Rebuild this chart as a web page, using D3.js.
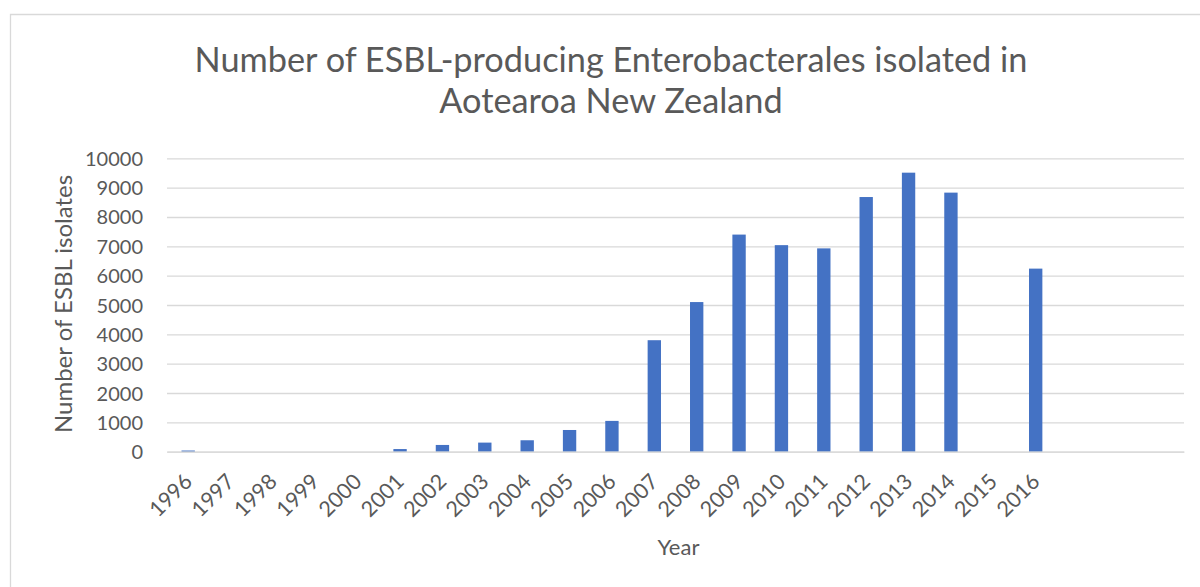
<!DOCTYPE html>
<html>
<head>
<meta charset="utf-8">
<script src="https://cdn.jsdelivr.net/npm/d3@7"></script>
<style>
  html, body { margin: 0; padding: 0; background: #fff; }
  svg { display: block; }
  text { font-family: Lato, "Open Sans", sans-serif; fill: #595959; }
</style>
</head>
<body>
<svg id="chart" width="1200" height="587"></svg>
<script>
// Years shown on the category axis (the axis reserves three further unlabelled slots)
const years = ["1996","1997","1998","1999","2000","2001","2002","2003","2004","2005",
               "2006","2007","2008","2009","2010","2011","2012","2013","2014","2015","2016"];
const slotCount = 24;
// Number of ESBL-producing Enterobacterales isolates per year
const isolates = [40, 0, 0, 0, 0, 90, 230, 310, 390, 740,
                  1050, 3800, 5100, 7400, 7040, 6930, 8680, 9510, 8830, 0, 6240];
const yTicks = [0, 1000, 2000, 3000, 4000, 5000, 6000, 7000, 8000, 9000, 10000];
const titleLines = ["Number of ESBL-producing Enterobacterales isolated in", "Aotearoa New Zealand"];
const yTitle = "Number of ESBL isolates";
const xTitle = "Year";

const svg = d3.select("#chart");
const W = 1200, H = 587;
const plot = { left: 167, right: 1184, top: 158.3, bottom: 451.7 };
const gridColor = "#d9d9d9";

// Chart area frame (only the top and left edges fall inside the view)
svg.append("path")
  .attr("d", `M10.5,${H} V14.5 H${W}`)
  .attr("fill", "none")
  .attr("stroke", gridColor)
  .attr("stroke-width", 1.3);

const x = d3.scaleBand()
  .domain(d3.range(slotCount))
  .range([plot.left, plot.right])
  .paddingInner(0.685)
  .paddingOuter(0.3425);

const y = d3.scaleLinear()
  .domain([0, 10000])
  .range([plot.bottom, plot.top]);

// Horizontal gridlines and y tick labels
const yAxis = d3.axisLeft(y)
  .tickValues(yTicks)
  .tickSize(-(plot.right - plot.left))
  .tickPadding(24)
  .tickFormat(d3.format("d"));

const gy = svg.append("g")
  .attr("transform", `translate(${plot.left},0)`)
  .call(yAxis);
gy.select(".domain").remove();
gy.selectAll(".tick line").attr("stroke", gridColor).attr("stroke-width", 1.3);
gy.selectAll(".tick text")
  .attr("font-size", 20)
  .attr("fill", "#595959")
  .attr("dy", "0.35em");

// Bars
svg.append("g")
  .selectAll("rect")
  .data(isolates)
  .join("rect")
  .attr("x", (d, i) => x(i))
  .attr("width", x.bandwidth())
  .attr("y", d => y(d))
  .attr("height", d => y(0) - y(d))
  .attr("fill", "#4472c4");

// Category axis
const xAxis = d3.axisBottom(x)
  .tickSize(0)
  .tickPadding(10)
  .tickFormat(i => years[i] ?? "");

const gx = svg.append("g")
  .attr("transform", `translate(0,${plot.bottom})`)
  .call(xAxis);
gx.select(".domain").attr("stroke", gridColor).attr("stroke-width", 1.3);
gx.selectAll(".tick text")
  .attr("font-size", 21.5)
  .attr("fill", "#595959")
  .attr("text-anchor", "end")
  .attr("dy", "0.35em")
  .attr("transform", "translate(0,26) rotate(-45)")
  .attr("y", 0)
  .attr("x", 0);

// Title
svg.append("text")
  .attr("x", 611)
  .attr("text-anchor", "middle")
  .attr("font-size", 34.3)
  .selectAll("tspan")
  .data(titleLines)
  .join("tspan")
  .attr("x", 611)
  .attr("y", (d, i) => 72 + i * 41)
  .text(d => d);

// Axis titles
svg.append("text")
  .attr("transform", `translate(72,304) rotate(-90)`)
  .attr("text-anchor", "middle")
  .attr("font-size", 24)
  .text(yTitle);

svg.append("text")
  .attr("x", (plot.left + plot.right) / 2 + 3)
  .attr("y", 555)
  .attr("text-anchor", "middle")
  .attr("font-size", 22)
  .text(xTitle);
</script>
</body>
</html>
